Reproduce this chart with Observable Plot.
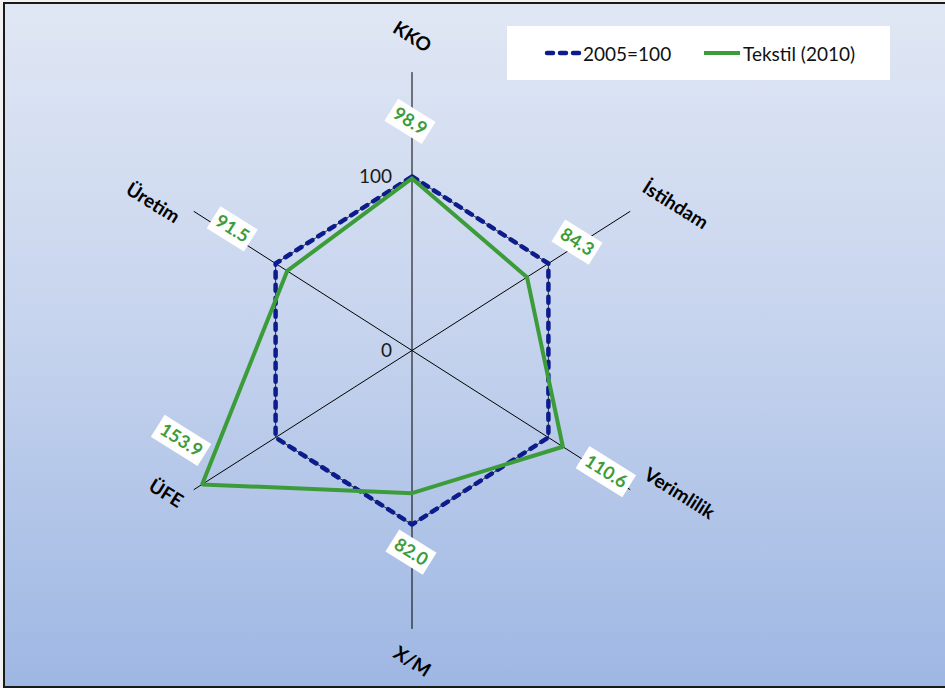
<!DOCTYPE html>
<html>
<head>
<meta charset="utf-8">
<script src="https://cdn.jsdelivr.net/npm/d3@7"></script>
<script src="https://cdn.jsdelivr.net/npm/@observablehq/plot@0.6"></script>
<style>
  html, body { margin: 0; padding: 0; background: #f2f2f2; }
  #wrap { position: relative; width: 945px; height: 688px; overflow: hidden; font-family: Lato, "Open Sans", sans-serif; }
  #frame { position: absolute; left: 3px; top: 2px; width: 960px; height: 682px;
    border-left: 2px solid #1a1a1a; border-top: 2px solid #1a1a1a; border-bottom: 2px solid #1a1a1a;
    background: linear-gradient(to bottom, #e0e7f4 0%, #c8d5ee 45%, #9eb7e3 100%); }
  #chart { position: absolute; left: 0; top: 0; }
  #legend { position: absolute; left: 507px; top: 26px; width: 383px; height: 54px; background: #fff;
    font-family: Lato, sans-serif; font-size: 19px; color: #111; }
  #legend .item { position: absolute; top: 0; height: 54px; display: flex; align-items: center; }
</style>
</head>
<body>
<div id="wrap">
  <div id="frame"></div>
  <div id="chart"></div>
  <div id="legend"></div>
</div>
<script>
// ---- data ----
const axes = ["KKO", "İstihdam", "Verimlilik", "X/M", "ÜFE", "Üretim"];
const baseValues = [100, 100, 100, 100, 100, 100];
const tekstilValues = [98.9, 84.3, 110.6, 82.0, 153.9, 91.5];
const seriesNames = ["2005=100", "Tekstil (2010)"];
const radialTicks = [0, 100];
const axisMax = 160;

// ---- styling / layout config (not data) ----
const W = 945, H = 688;
const cx = 411.5, cy = 350, pxX = 1.575, pxY = 1.74;
const navy = "#0c1c8c", green = "#3c9c3a";
const labelOffsets = [[0, -35], [45, -6], [49, 4], [0, 33], [-28, 4], [-41, -8]];
const valueOffsets = [[-2, -57], [50, -35], [43, 25], [-1, 59], [-21, -44], [-55, -42]];
const rot = 32;

const ang = i => i * Math.PI / 3;
const pt = (v, i) => ({x: v * Math.sin(ang(i)), y: v * Math.cos(ang(i))});

const axisLines = axes.map((a, i) => ({x1: 0, y1: 0, x2: pt(axisMax, i).x, y2: pt(axisMax, i).y, name: a}));
const closed = arr => [...arr.map((v, i) => ({...pt(v, i), v})), {...pt(arr[0], 0), v: arr[0]}];
const baseLine = closed(baseValues);
const tekLine = closed(tekstilValues);

function boxSymbol(w, h, deg) {
  const a = deg * Math.PI / 180, c = Math.cos(a), s = Math.sin(a);
  const corners = [[-w/2, -h/2], [w/2, -h/2], [w/2, h/2], [-w/2, h/2]].map(([x, y]) => [x * c - y * s, x * s + y * c]);
  return {draw(ctx) {
    ctx.moveTo(corners[0][0], corners[0][1]);
    for (let k = 1; k < 4; k++) ctx.lineTo(corners[k][0], corners[k][1]);
    ctx.closePath();
  }};
}

const marks = [];
// axis spokes
marks.push(Plot.link(axisLines, {x1: "x1", y1: "y1", x2: "x2", y2: "y2", stroke: "#000", strokeWidth: 1}));
// radial tick labels
marks.push(Plot.text(radialTicks, {x: () => 0, y: d => d, text: d => String(d), textAnchor: "end", dx: -20,
  fontSize: 19, fill: "#1a1a1a", fontFamily: "Lato, sans-serif"}));
// base series
marks.push(Plot.line(baseLine, {x: "x", y: "y", stroke: "#333", strokeWidth: 1}));
marks.push(Plot.line(baseLine, {x: "x", y: "y", stroke: navy, strokeWidth: 4.5, strokeDasharray: "6,7", strokeLinecap: "round"}));
// tekstil series
marks.push(Plot.line(tekLine, {x: "x", y: "y", stroke: green, strokeWidth: 4, strokeLinejoin: "miter"}));
// value labels
tekstilValues.forEach((v, i) => {
  const p = pt(v, i);
  const txt = v.toFixed(1);
  const w = txt.length * 11;
  const [dx, dy] = valueOffsets[i];
  marks.push(Plot.dot([p], {x: "x", y: "y", dx, dy, symbol: boxSymbol(w, 26, rot), r: 10, fill: "#fff", stroke: "none"}));
  marks.push(Plot.text([p], {x: "x", y: "y", dx, dy, text: () => txt, rotate: rot, fill: green, fontWeight: "bold",
    fontSize: 18, fontFamily: "Lato, sans-serif"}));
});
// axis labels
axes.forEach((a, i) => {
  const p = pt(axisMax, i);
  const [dx, dy] = labelOffsets[i];
  marks.push(Plot.text([p], {x: "x", y: "y", dx, dy, text: () => a, rotate: rot, fill: "#000", fontWeight: "bold",
    fontSize: 19, fontFamily: "Lato, sans-serif"}));
});

const chart = Plot.plot({
  width: W, height: H,
  margin: 0,
  style: {background: "transparent", overflow: "visible"},
  x: {domain: [-cx / pxX, (W - cx) / pxX], axis: null},
  y: {domain: [-(H - cy) / pxY, cy / pxY], axis: null},
  marks
});
document.getElementById("chart").appendChild(chart);

// legend
const lg = document.getElementById("legend");
lg.innerHTML = `
  <div class="item" style="left:36px"><svg width="42" height="10"><line x1="4" y1="5" x2="40" y2="5" stroke="${navy}" stroke-width="4.5" stroke-dasharray="6,7" stroke-linecap="round"/></svg><span style="margin-left:-2px">${seriesNames[0]}</span></div>
  <div class="item" style="left:196px"><svg width="40" height="10"><line x1="1" y1="5" x2="37" y2="5" stroke="${green}" stroke-width="4"/></svg><span>${seriesNames[1]}</span></div>`;
</script>
</body>
</html>
